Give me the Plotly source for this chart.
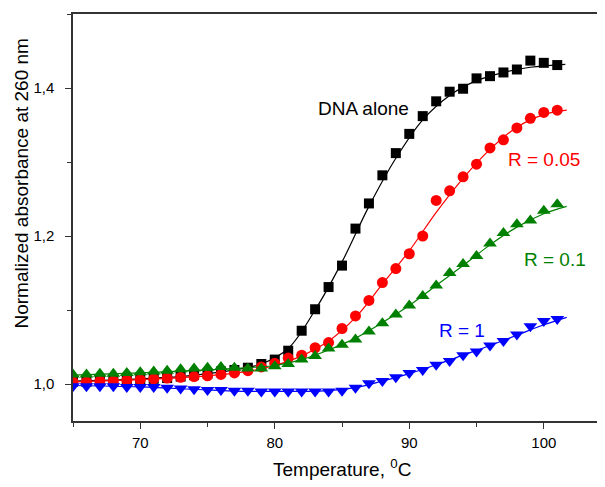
import plotly.graph_objects as go

# ---- data ----
temp = list(range(65, 102))

dna_alone = [1.003, 1.003, 1.004, 1.004, 1.005, 1.006, 1.007, 1.008, 1.010, 1.012,
             1.014, 1.017, 1.019, 1.022, 1.027, 1.033, 1.045, 1.072, 1.101, 1.131,
             1.160, 1.210, 1.244, 1.282, 1.312, 1.338, 1.362, 1.382, 1.395, 1.399,
             1.413, 1.416, 1.421, 1.425, 1.437, 1.434, 1.431]
r_005 = [1.003, 1.003, 1.004, 1.004, 1.005, 1.006, 1.007, 1.008, 1.009, 1.010,
         1.011, 1.013, 1.015, 1.018, 1.023, 1.028, 1.035, 1.039, 1.049, 1.056,
         1.075, 1.092, 1.113, 1.137, 1.156, 1.176, 1.200, 1.248, 1.261, 1.280,
         1.297, 1.319, 1.330, 1.346, 1.359, 1.367, 1.370]
r_01 = [1.013, 1.013, 1.014, 1.014, 1.015, 1.016, 1.017, 1.018, 1.020, 1.021,
        1.022, 1.023, 1.022, 1.021, 1.021, 1.024, 1.027, 1.033, 1.038, 1.048,
        1.053, 1.060, 1.071, 1.082, 1.094, 1.106, 1.119, 1.133, 1.150, 1.162,
        1.173, 1.190, 1.204, 1.216, 1.221, 1.234, 1.243]
r_1 = [0.997, 0.997, 0.997, 0.997, 0.996, 0.996, 0.996, 0.995, 0.994, 0.993,
       0.992, 0.992, 0.991, 0.991, 0.990, 0.990, 0.990, 0.990, 0.990, 0.990,
       0.991, 0.995, 1.001, 1.004, 1.009, 1.015, 1.019, 1.026, 1.031, 1.039,
       1.044, 1.052, 1.058, 1.067, 1.078, 1.085, 1.088]

# fitted curves
fit_t_dna = [65, 67, 69, 71, 73, 75, 77, 79, 81, 83, 85, 87, 89, 91, 93, 95, 97, 99, 101.6]
fit_dna = [1.004, 1.005, 1.006, 1.008, 1.010, 1.014, 1.019, 1.027, 1.048, 1.100, 1.165,
           1.240, 1.305, 1.357, 1.390, 1.410, 1.421, 1.428, 1.432]
fit_t = [65, 70, 75, 78, 80, 82, 84, 86, 88, 90, 92, 94, 96, 98, 100, 101.7]
fit_005 = [1.003, 1.006, 1.011, 1.017, 1.025, 1.038, 1.058, 1.090, 1.135, 1.180,
           1.232, 1.278, 1.317, 1.347, 1.364, 1.370]
fit_01 = [1.012, 1.015, 1.019, 1.022, 1.025, 1.033, 1.046, 1.062, 1.083, 1.106,
          1.133, 1.160, 1.188, 1.212, 1.230, 1.240]
fit_1 = [0.998, 0.996, 0.992, 0.990, 0.990, 0.990, 0.991, 0.995, 1.004, 1.014,
         1.026, 1.039, 1.052, 1.066, 1.080, 1.090]

y_tickvals = [1.0, 1.2, 1.4]
y_ticktext = ["1,0", "1,2", "1,4"]
x_tickvals = [70, 80, 90, 100]
x_ticktext = ["70", "80", "90", "100"]

labels = ["DNA alone", "R = 0.05", "R = 0.1", "R = 1"]
label_x = [86.56, 100.0, 100.84, 93.92]
label_y = [1.372, 1.303, 1.168, 1.072]

colors = ["#000000", "#ff0000", "#008000", "#0000ff"]
symbols = ["square", "circle", "triangle-up", "triangle-down"]
sizes = [10, 11, 12, 12]

FONT = "Arial, Liberation Sans, sans-serif"

fig = go.Figure()
series = [(fit_t_dna, fit_dna, dna_alone), (fit_t, fit_005, r_005),
          (fit_t, fit_01, r_01), (fit_t, fit_1, r_1)]
for i, (ft, fv, pts) in enumerate(series):
    fig.add_trace(go.Scatter(x=ft, y=fv, mode="lines", line=dict(color=colors[i], width=1.2, shape="spline"),
                             showlegend=False, hoverinfo="skip"))
    fig.add_trace(go.Scatter(x=temp, y=pts, mode="markers",
                             marker=dict(symbol=symbols[i], color=colors[i], size=sizes[i], line=dict(width=0)),
                             showlegend=False))

for i, t in enumerate(labels):
    fig.add_annotation(x=label_x[i], y=label_y[i], text=t, showarrow=False,
                       font=dict(family=FONT, size=19, color=colors[i]), xanchor="center", yanchor="middle")

# axis titles as annotations
fig.add_annotation(xref="paper", yref="paper", x=0, y=0.5835, xshift=-51, text="Normalized absorbance at 260 nm",
                   textangle=-90, showarrow=False, font=dict(family=FONT, size=19, color="#000"),
                   xanchor="center", yanchor="middle")
fig.add_annotation(xref="paper", yref="paper", x=0.5056, y=0, yshift=-47, text="Temperature, <sup>0</sup>C",
                   showarrow=False, font=dict(family=FONT, size=19, color="#000"),
                   xanchor="center", yanchor="middle")

# page body has an 8px default margin, so the figure is shrunk by 8px and margins reduced accordingly
fig.update_layout(
    width=597, height=479,
    margin=dict(l=65, r=0, t=6, b=66),
    paper_bgcolor="white", plot_bgcolor="white",
    font=dict(family=FONT, size=15, color="#000"),
    showlegend=False,
)
fig.update_xaxes(range=[65, 104.55], showgrid=False, zeroline=False, showline=True, linecolor="#333",
                 linewidth=1.5, mirror=True, ticks="outside", ticklen=6, tickwidth=1.3, tickcolor="#333",
                 tickvals=x_tickvals, ticktext=x_ticktext, ticklabelstandoff=1,
                 minor=dict(ticks="outside", ticklen=4, tickwidth=1.3, tickcolor="#333", dtick=5, tick0=65, showgrid=False))
fig.update_yaxes(range=[0.95, 1.5], showgrid=False, zeroline=False, showline=True, linecolor="#333",
                 linewidth=1.5, mirror=False, ticks="outside", ticklen=6, tickwidth=1.3, tickcolor="#333",
                 tickvals=y_tickvals, ticktext=y_ticktext, ticklabelstandoff=8,
                 minor=dict(ticks="outside", ticklen=4, tickwidth=1.3, tickcolor="#333", dtick=0.1, tick0=1.0, showgrid=False))

fig.write_html("out.html")
